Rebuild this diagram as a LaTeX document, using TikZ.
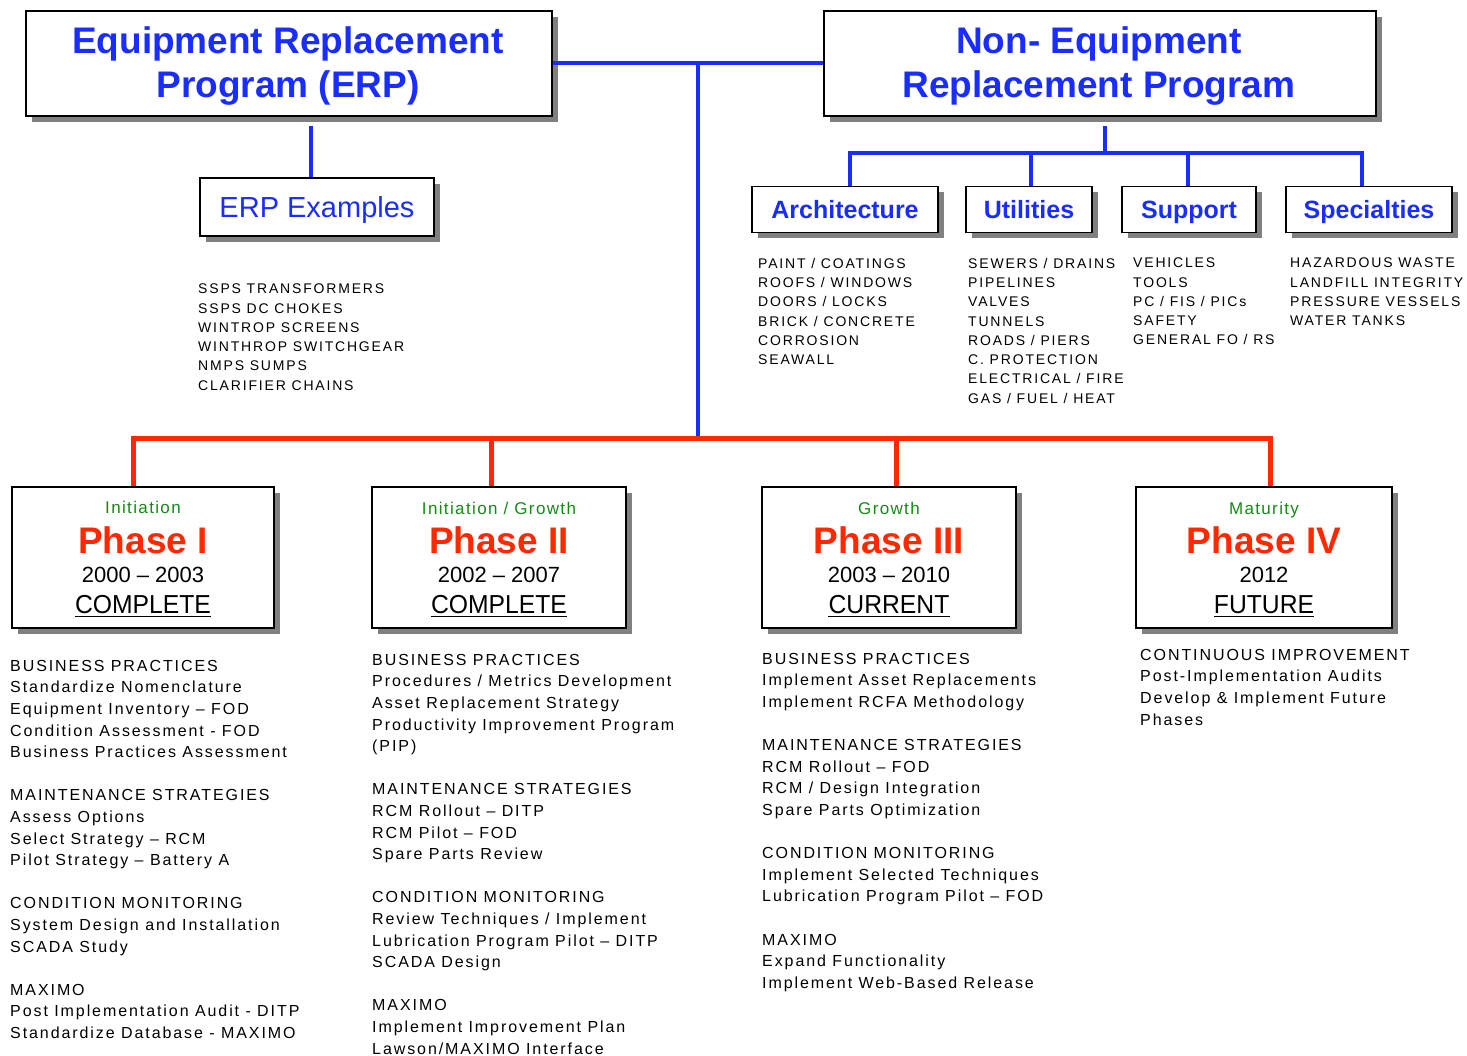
\documentclass[tikz,border=0pt]{standalone}
\usepackage{fontspec}
\setmainfont{Liberation Sans}
\newfontfamily\listfont{Liberation Sans}[LetterSpace=12]
\newfontfamily\smalllistfont{Liberation Sans}[LetterSpace=13]
\newfontfamily\stagefont{Liberation Sans}[LetterSpace=8]
\newfontfamily\statusfont{Liberation Sans}[FakeStretch=0.95]
\usetikzlibrary{shadows}

\definecolor{progblue}{RGB}{25,45,255}
\definecolor{phasered}{RGB}{255,40,0}
\definecolor{stagegreen}{RGB}{20,140,20}
\definecolor{shadowgray}{RGB}{128,128,128}

\begin{document}
\begin{tikzpicture}[x=1pt,y=-1pt,
  box/.style={draw=black, line width=1.6pt, fill=white, inner sep=0pt,
    drop shadow={shadow xshift=6pt, shadow yshift=-6pt, fill=shadowgray, opacity=1}},
  titletext/.style={anchor=north, inner sep=0pt, align=center, text=progblue,
    font=\fontsize{37}{44}\selectfont\bfseries},
  catbox/.style={box, minimum height=46pt, text=progblue, text height=18pt, text depth=0pt,
    font=\fontsize{25}{30}\selectfont\bfseries},
  phasebox/.style={box, minimum width=#1, minimum height=141pt},
  stage/.style={anchor=base, inner sep=0pt, text=stagegreen, font=\stagefont\fontsize{17}{20}\selectfont},
  phname/.style={anchor=base, inner sep=0pt, text=phasered, font=\fontsize{37}{40}\selectfont\bfseries},
  years/.style={anchor=base, inner sep=0pt, font=\fontsize{22}{26}\selectfont},
  status/.style={anchor=base, inner sep=0pt, font=\statusfont\fontsize{26}{30}\selectfont},
  toplist/.style={anchor=north west, inner sep=0pt, align=left,
    font=\smalllistfont\fontsize{14}{19.25}\selectfont},
  phaselist/.style={anchor=north west, inner sep=0pt, align=left,
    font=\listfont\fontsize{16}{21.6}\selectfont},
  blueline/.style={draw=progblue, line width=4pt},
  redline/.style={draw=phasered, line width=5pt},
  uline/.style={draw=black, line width=1.8pt}]

\useasboundingbox[fill=white] (0,0) rectangle (1467,1056);

% --- programme boxes ---
\node[box, minimum width=526pt, minimum height=105pt] (erp) at (289,63.5) {};
\node[titletext] (erptext) at (288,26.5) {Equipment Replacement\\Program (ERP)};
\node[box, minimum width=552pt, minimum height=105pt] (nerp) at (1100,63.5) {};
\node[titletext] (nerptext) at (1099,26.5) {Non- Equipment\\Replacement Program};

\node[box, minimum width=234pt, minimum height=58pt, text=progblue,
      text height=21pt, text depth=0pt, font=\fontsize{29}{32}\selectfont]
      (erpex) at (317,207) {ERP Examples};

% --- non-equipment categories ---
\node[catbox, minimum width=186pt] (arch) at (845,209.5) {Architecture};
\node[catbox, minimum width=126pt] (util) at (1029,209.5) {Utilities};
\node[catbox, minimum width=134pt] (supp) at (1189,209.5) {Support};
\node[catbox, minimum width=166pt] (spec) at (1369,209.5) {Specialties};

% --- item lists under the upper boxes ---
\node[toplist] (erplist) at (198,284) {SSPS TRANSFORMERS\\SSPS DC CHOKES\\WINTROP SCREENS\\WINTHROP SWITCHGEAR\\NMPS SUMPS\\CLARIFIER CHAINS};
\node[toplist] (archlist) at (758,258) {PAINT / COATINGS\\ROOFS / WINDOWS\\DOORS / LOCKS\\BRICK / CONCRETE\\CORROSION\\SEAWALL};
\node[toplist] (utillist) at (968,258) {SEWERS / DRAINS\\PIPELINES\\VALVES\\TUNNELS\\ROADS / PIERS\\C. PROTECTION\\ELECTRICAL / FIRE\\GAS / FUEL / HEAT};
\node[toplist] (supplist) at (1133,258) {VEHICLES\\TOOLS\\PC / FIS / PICs\\SAFETY\\GENERAL FO / RS};
\node[toplist] (speclist) at (1290,258) {HAZARDOUS WASTE\\LANDFILL INTEGRITY\\PRESSURE VESSELS\\WATER TANKS};

% --- phase boxes ---
\node[phasebox=262pt] (p1) at (143,557.5) {};
\node[phasebox=254pt] (p2) at (499,557.5) {};
\node[phasebox=254pt] (p3) at (889,557.5) {};
\node[phasebox=256pt] (p4) at (1264,557.5) {};

\node[stage] (p1stage) at (143,513) {Initiation};
\node[phname] (p1name) at (143,553) {Phase I};
\node[years] (p1years) at (143,582) {2000 – 2003};
\node[status] (p1status) at (143,613) {COMPLETE};

\node[stage] (p2stage) at (499,514) {Initiation / Growth};
\node[phname] (p2name) at (499,553) {Phase II};
\node[years] (p2years) at (499,582) {2002 – 2007};
\node[status] (p2status) at (499,613) {COMPLETE};

\node[stage] (p3stage) at (889,514) {Growth};
\node[phname] (p3name) at (889,553) {Phase III};
\node[years] (p3years) at (889,582) {2003 – 2010};
\node[status] (p3status) at (889,613) {CURRENT};

\node[stage] (p4stage) at (1264,514) {Maturity};
\node[phname] (p4name) at (1264,553) {Phase IV};
\node[years] (p4years) at (1264,582) {2012};
\node[status] (p4status) at (1264,613) {FUTURE};

\foreach \s in {p1status,p2status,p3status,p4status}
  \draw[uline] ([yshift=-3.5pt]\s.base west) -- ([yshift=-3.5pt]\s.base east);

% --- phase activity lists ---
\node[phaselist] (p1list) at (10,660) {BUSINESS PRACTICES\\Standardize Nomenclature\\Equipment Inventory – FOD\\Condition Assessment - FOD\\Business Practices Assessment\\[21.6pt]MAINTENANCE STRATEGIES\\Assess Options\\Select Strategy – RCM\\Pilot Strategy – Battery A\\[21.6pt]CONDITION MONITORING\\System Design and Installation\\SCADA Study\\[21.6pt]MAXIMO\\Post Implementation Audit - DITP\\Standardize Database - MAXIMO};
\node[phaselist] (p2list) at (372,654) {BUSINESS PRACTICES\\Procedures / Metrics Development\\Asset Replacement Strategy\\Productivity Improvement Program\\(PIP)\\[21.6pt]MAINTENANCE STRATEGIES\\RCM Rollout – DITP\\RCM Pilot – FOD\\Spare Parts Review\\[21.6pt]CONDITION MONITORING\\Review Techniques / Implement\\Lubrication Program Pilot – DITP\\SCADA Design\\[21.6pt]MAXIMO\\Implement Improvement Plan\\Lawson/MAXIMO Interface};
\node[phaselist] (p3list) at (762,653) {BUSINESS PRACTICES\\Implement Asset Replacements\\Implement RCFA Methodology\\[21.6pt]MAINTENANCE STRATEGIES\\RCM Rollout – FOD\\RCM / Design Integration\\Spare Parts Optimization\\[21.6pt]CONDITION MONITORING\\Implement Selected Techniques\\Lubrication Program Pilot – FOD\\[21.6pt]MAXIMO\\Expand Functionality\\Implement Web-Based Release};
\node[phaselist] (p4list) at (1140,649) {CONTINUOUS IMPROVEMENT\\Post-Implementation Audits\\Develop \& Implement Future\\Phases};

% --- connectors ---
\coordinate (hub) at (698,63.5);
\coordinate (bus) at (698,438);
\coordinate (nbar) at (1105,153);

\draw[blueline] (erp.east) -- (nerp.west);
\draw[blueline] (hub) -- (bus);
\draw[blueline] ([xshift=22pt,yshift=-9pt]erp.south) -- ([xshift=22pt]erp.south |- erpex.north);
\draw[blueline] ([xshift=5pt,yshift=-9pt]nerp.south) -- (nbar);
\draw[blueline] ([xshift=5pt]arch.north) |- (nbar) -| ([xshift=-7pt]spec.north);
\draw[blueline] ([xshift=2pt]util.north) -- ([xshift=2pt]util.north |- nbar);
\draw[blueline] ([xshift=-1pt]supp.north) -- ([xshift=-1pt]supp.north |- nbar);

\draw[redline] ([xshift=-10pt]p1.north) |- (bus) -| ([xshift=6pt]p4.north);
\draw[redline] ([xshift=-8pt]p2.north) -- ([xshift=-8pt]p2.north |- bus);
\draw[redline] ([xshift=7pt]p3.north) -- ([xshift=7pt]p3.north |- bus);
\end{tikzpicture}
\end{document}
